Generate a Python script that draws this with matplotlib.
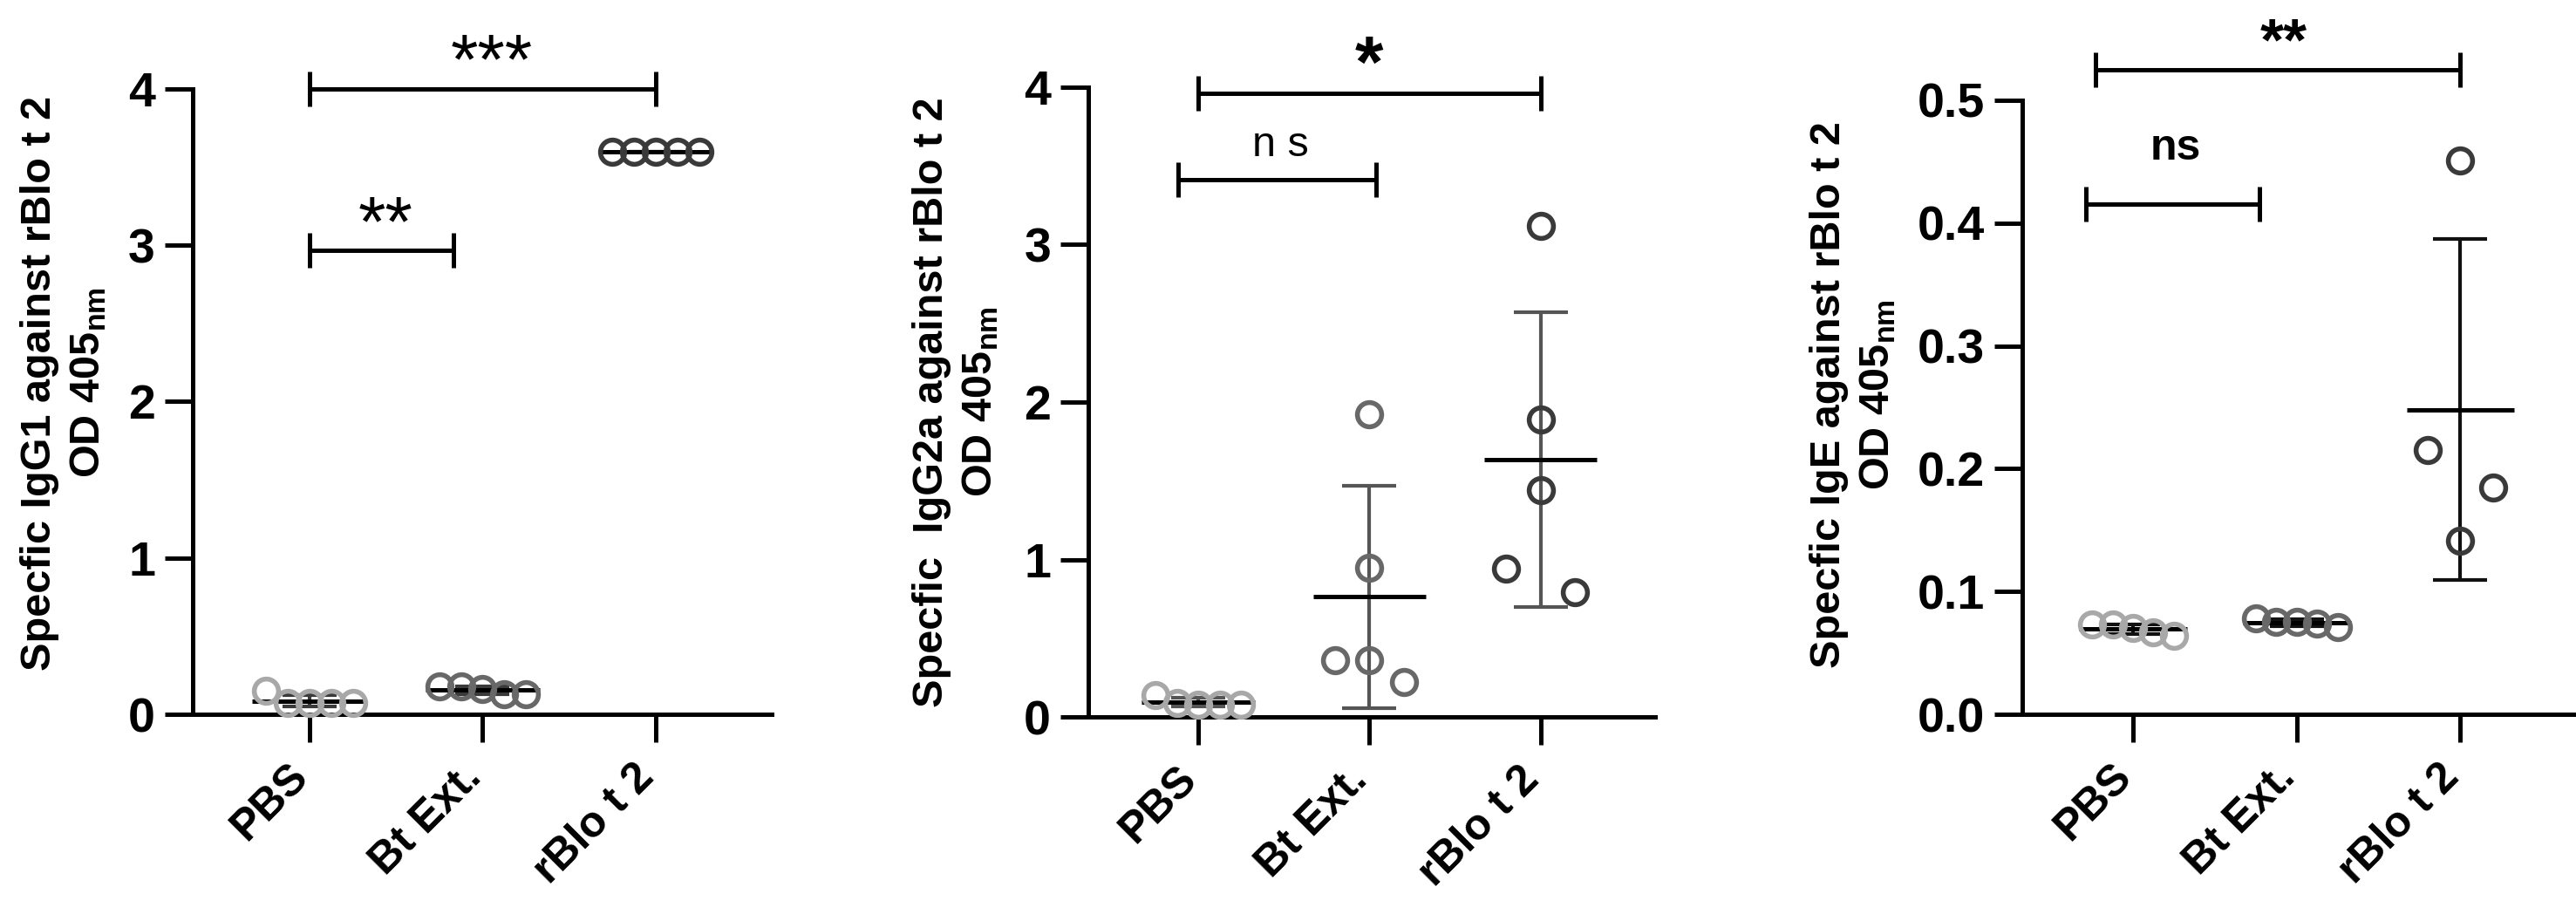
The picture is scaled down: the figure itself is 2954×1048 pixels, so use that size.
import numpy as np
import matplotlib
matplotlib.use("Agg")
from matplotlib import pyplot as plt
from matplotlib.transforms import ScaledTranslation

plt.rcParams["font.family"] = ["Liberation Sans", "DejaVu Sans"]
plt.rcParams["mathtext.default"] = "regular"

groups = ["PBS", "Bt Ext.", "rBlo t 2"]

# IgG1
igg1_pbs = [0.15, 0.07, 0.07, 0.07, 0.07]
igg1_bt = [0.18, 0.18, 0.16, 0.13, 0.13]
igg1_rblo = [3.6, 3.6, 3.6, 3.6, 3.6]

# IgG2a
igg2a_pbs = [0.14, 0.09, 0.08, 0.08, 0.08]
igg2a_bt = [1.92, 0.95, 0.36, 0.36, 0.22]
igg2a_rblo = [3.12, 1.89, 1.44, 0.94, 0.79]

# IgE
ige_pbs = [0.073, 0.073, 0.070, 0.067, 0.064]
ige_bt = [0.078, 0.075, 0.075, 0.074, 0.071]
ige_rblo = [0.451, 0.215, 0.185, 0.141]

group_colors = ["#a8a8a8", "#686868", "#3a3a3a"]


def spread(values, px_per_unit, thresh_px=45, tight_px=20):
    # GraphPad-like horizontal spreading of overlapping points
    vals = np.asarray(values, float)
    order = np.argsort(-vals, kind="stable")
    offsets = np.zeros(len(vals))
    clusters, cur = [], [order[0]]
    for a, b in zip(order[:-1], order[1:]):
        if (vals[a] - vals[b]) * px_per_unit < thresh_px:
            cur.append(b)
        else:
            clusters.append(cur)
            cur = [b]
    clusters.append(cur)
    for c in clusters:
        n = len(c)
        if n == 1:
            continue
        span = (vals[c[0]] - vals[c[-1]]) * px_per_unit
        step = 0.125 if span < tight_px else 0.4 / (n - 1)
        for k, idx in enumerate(c):
            offsets[idx] = (k - (n - 1) / 2) * step
    return offsets


# bracket: x1, x2, y, label, label x, label y (glyph centre), size, weight, glyph centre frac
panels = [
    dict(rect=[0.0748, 0.2185, 0.2248, 0.6842], xlim=(-0.675, 2.67), ylim=(0, 4),
         yticks=[0, 1, 2, 3, 4], fmt="{:g}",
         data=[igg1_pbs, igg1_bt, igg1_rblo], err_color="#3a3a3a",
         ylabel="Specfic IgG1 against rBlo t 2\nOD 405$_{nm}$", label_xy=(-0.145, 0.53),
         brackets=[(0, 2, 4.0, "***", 1.05, 4.30, 58, "normal", 0.58),
                   (0, 0.83, 2.97, "**", 0.44, 3.26, 58, "normal", 0.58)]),
    dict(rect=[0.4225, 0.2156, 0.22, 0.689], xlim=(-0.643, 2.67), ylim=(0, 4),
         yticks=[0, 1, 2, 3, 4], fmt="{:g}",
         data=[igg2a_pbs, igg2a_bt, igg2a_rblo], err_color="#555555",
         ylabel="Specfic  IgG2a against rBlo t 2\nOD 405$_{nm}$", label_xy=(-0.155, 0.5),
         brackets=[(0, 2, 3.96, "*", 1.0, 4.27, 60, "bold", 0.58),
                   (-0.12, 1.04, 3.41, "n s", 0.48, 3.63, 35, "normal", 0.26)]),
    dict(rect=[0.785, 0.2185, 0.214, 0.6718], xlim=(-0.677, 2.69), ylim=(0, 0.5),
         yticks=[0, 0.1, 0.2, 0.3, 0.4, 0.5], fmt="{:.1f}",
         data=[ige_pbs, ige_bt, ige_rblo], err_color="#111111",
         ylabel="Specfic IgE against rBlo t 2\nOD 405$_{nm}$", label_xy=(-0.225, 0.52),
         brackets=[(-0.23, 2.0, 0.525, "**", 0.92, 0.562, 50, "bold", 0.58),
                   (-0.29, 0.77, 0.4155, "ns", 0.26, 0.461, 36, "bold", 0.26)]),
]

fig = plt.figure(figsize=(29.54, 10.48), dpi=100)
lw = 3.6
label_shift = ScaledTranslation(-10 / 72, 0, fig.dpi_scale_trans)

for p in panels:
    ax = fig.add_axes(p["rect"])
    ax.set_xlim(*p["xlim"])
    ax.set_ylim(*p["ylim"])
    fig.canvas.draw()
    y0 = ax.transData.transform((0, p["ylim"][0]))[1]
    y1 = ax.transData.transform((0, p["ylim"][1]))[1]
    px_per_unit = (y1 - y0) / (p["ylim"][1] - p["ylim"][0])

    for i, vals in enumerate(p["data"]):
        vals = np.asarray(vals)
        mean = vals.mean()
        sd = vals.std(ddof=1)
        ax.errorbar(i, mean, yerr=sd, fmt="none", ecolor=p["err_color"], elinewidth=3,
                    capsize=22, capthick=3, zorder=2)
        ax.hlines(mean, i - 0.33, i + 0.33, color="black", lw=lw, zorder=3)
        xs = i + spread(vals, px_per_unit)
        ax.plot(xs, vals, "o", mfc="none", mec=group_colors[i], ms=20, mew=4,
                zorder=4, clip_on=False)

    for x1, x2, y, s, tx, ty, fs, fw, frac in p["brackets"]:
        ax.plot([x1, x2], [y, y], color="black", lw=lw, marker="|", ms=29, mew=lw,
                clip_on=False, solid_capstyle="butt")
        ax.annotate(s, (tx, ty), xytext=(0, -frac * fs), textcoords="offset points",
                    ha="center", va="baseline", fontsize=fs, fontweight=fw,
                    annotation_clip=False)

    ax.set_xticks(range(len(groups)))
    ax.set_xticklabels(groups, rotation=45, ha="right", va="baseline",
                       rotation_mode="anchor", fontsize=36, fontweight="bold")
    for lab in ax.get_xticklabels():
        lab.set_transform(lab.get_transform() + label_shift)
    ax.set_yticks(p["yticks"])
    ax.set_yticklabels([p["fmt"].format(t) for t in p["yticks"]], fontsize=40,
                       fontweight="bold")
    ax.tick_params(axis="both", length=23, width=lw, direction="out")
    ax.tick_params(axis="y", pad=8)
    ax.tick_params(axis="x", pad=30)
    for side in ["top", "right"]:
        ax.spines[side].set_visible(False)
    for side in ["left", "bottom"]:
        ax.spines[side].set_linewidth(lw)
    ax.set_ylabel(p["ylabel"], fontsize=35, fontweight="bold", linespacing=1.3)
    ax.yaxis.set_label_coords(*p["label_xy"])

fig.savefig("out.png", dpi=100)
